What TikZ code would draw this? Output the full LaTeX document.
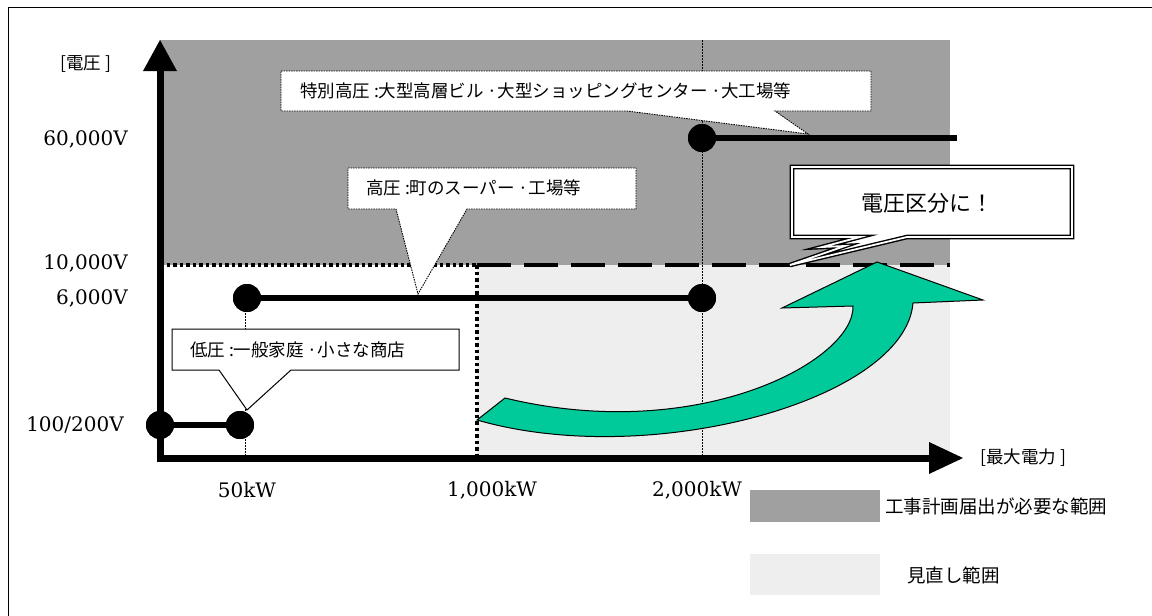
\documentclass[tikz,border=0pt]{standalone}
\usepackage{fontspec}
\setmainfont{DejaVu Serif}
\newfontfamily\jp{Noto Sans CJK JP}
\definecolor{darkreg}{HTML}{A0A0A0}
\definecolor{lightreg}{HTML}{EEEEEE}
\definecolor{arrowgreen}{HTML}{00C99A}
\begin{document}
\begin{tikzpicture}[x=1pt,y=-1pt,
  dot/.style={circle,fill=black,inner sep=0pt,minimum size=28pt},
  seg/.style={line width=6pt},
  jtext/.style={font=\jp\fontsize{17.5}{20}\selectfont,inner sep=0pt,anchor=west},
  legtext/.style={font=\jp\fontsize{18.5}{21}\selectfont,inner sep=0pt,anchor=west},
  vlabel/.style={font=\fontsize{20}{24}\selectfont,inner sep=0pt,anchor=east},
  hlabel/.style={font=\fontsize{20}{24}\selectfont,inner sep=0pt},
  thindot/.style={line width=1pt,dash pattern=on 1.5pt off 1.5pt},
  thickdot/.style={line width=3.5pt,dash pattern=on 3.5pt off 3pt},
  thickdash/.style={line width=4pt,dash pattern=on 34pt off 13pt},
  calloutdot/.style={fill=white,draw=black,line width=0.9pt,dash pattern=on 1.5pt off 1pt},
  calloutsolid/.style={fill=white,draw=black,line width=1pt},
  axisline/.style={line width=7pt},
]
\useasboundingbox (0,0) rectangle (1152,616);
% frame
\draw[line width=1pt] (8,616) -- (8,7) -- (1152,7);
% regions
\fill[darkreg] (160,40) rectangle (950,265);
\fill[lightreg] (477,265) rectangle (950,457);
% coordinates
\coordinate (v2000top) at (702,40);
\coordinate (v2000bot) at (702,455);
\coordinate (v50top) at (245,298);
\coordinate (v50bot) at (245,455);
\coordinate (h10a) at (160,265);
\coordinate (h10b) at (477,265);
\coordinate (h10c) at (950,265);
\coordinate (v1000bot) at (477,455);
% thin dotted guides
\draw[thindot] (v2000top) -- (v2000bot);
\draw[thindot] (v50top) -- (v50bot);
% 10,000V boundary
\draw[thickdot] (h10a) -- (h10b);
\draw[thickdash] (h10b) -- (h10c);
\draw[thickdot] (h10b) -- (v1000bot);
% callout: special high voltage
\path[calloutdot] (281,71) -- (871,71) -- (871,111) -- (775,111) -- (808,134) -- (627,111) -- (281,111) -- cycle;
\node[jtext] (c1) at (300,91) {特別高圧 :大型高層ビル ·大型ショッピングセンター ·大工場等};
% callout: high voltage
\path[calloutdot] (348,168) -- (636,168) -- (636,209) -- (467,209) -- (418,294) -- (396,209) -- (348,209) -- cycle;
\node[jtext] (c2) at (366,188) {高圧 :町のスーパー ·工場等};
% callout: low voltage
\path[calloutsolid] (172,329) -- (459,329) -- (459,370) -- (291,370) -- (247,410) -- (219,370) -- (172,370) -- cycle;
\node[jtext] (c3) at (190,350) {低圧 :一般家庭 ·小さな商店};
% dots and segments
\node[dot] (d1) at (160,425) {};
\node[dot] (d2) at (240,425) {};
\node[dot] (d3) at (247,298) {};
\node[dot] (d4) at (702,298) {};
\node[dot] (d5) at (702,138) {};
\coordinate (e5) at (957,138);
\draw[seg] (d1.center) -- (d2.center);
\draw[seg] (d3.center) -- (d4.center);
\draw[seg] (d5.center) -- (e5);
\node[dot] at (d1) {};
\node[dot] at (d2) {};
\node[dot] at (d3) {};
\node[dot] at (d4) {};
\node[dot] at (d5) {};
% green arrow
\filldraw[fill=arrowgreen,draw=black,line width=1pt] (477,420) -- (505,398) .. controls (700,445) and (855,360) .. (853,306) -- (782,308) -- (877,262) -- (983,300) -- (913,303) .. controls (905,400) and (650,470) .. (477,420) -- cycle;
% axes
\coordinate (O) at (160,458);
\coordinate (ytop) at (160,68);
\coordinate (ybot) at (160,461.5);
\coordinate (xl) at (156.5,458);
\coordinate (xr) at (931,458);
\draw[axisline] (ybot) -- (ytop);
\fill (143,71) -- (160,40) -- (177,71) -- cycle;
\draw[axisline] (xl) -- (xr);
\fill (929,442) -- (963,458) -- (929,474) -- cycle;
% axis labels
\node[jtext] (ylab) at (60,64) {[電圧 ]};
\node[jtext] (xlab) at (980,458) {[最大電力 ]};
\node[vlabel] (l60) at (128,139) {60,000V};
\node[vlabel] (l10) at (128,263) {10,000V};
\node[vlabel] (l6) at (128,298) {6,000V};
\node[vlabel] (l100) at (124,425) {100/200V};
\node[hlabel] (k50) at (247,490) {50kW};
\node[hlabel] (k1000) at (492,490) {1,000kW};
\node[hlabel] (k2000) at (697,490) {2,000kW};
% shout callout
\filldraw[fill=white,draw=black,line width=1.4pt,double=white,double distance=1.8pt] (792,167) -- (1072,167) -- (1072,237) -- (907,237) -- (790,265) -- (845,246) -- (822,247) -- (860,237) -- (792,237) -- cycle;
\node[font=\jp\fontsize{22}{26}\selectfont,inner sep=0pt] (shout) at (927,203) {電圧区分に！};
% legend
\fill[darkreg] (750,490) rectangle (880,522);
\node[legtext] (leg1) at (885,506) {工事計画届出が必要な範囲};
\fill[lightreg] (750,554) rectangle (880,595);
\node[legtext] (leg2) at (907,575) {見直し範囲};
\end{tikzpicture}
\end{document}
